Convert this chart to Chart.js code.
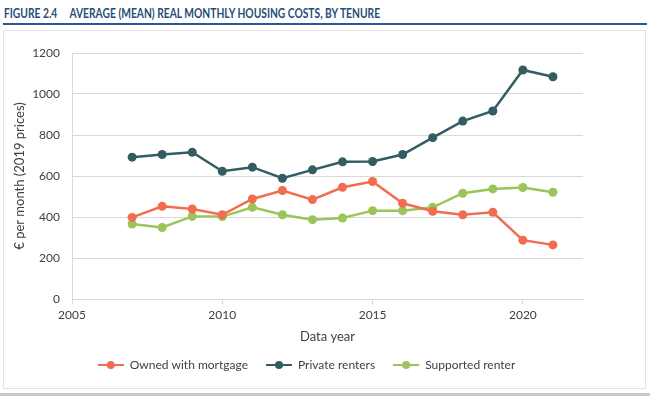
<!DOCTYPE html>
<html>
<head>
<meta charset="utf-8">
<script src="https://cdn.jsdelivr.net/npm/chart.js@4"></script>
<style>
  html, body { margin: 0; padding: 0; background: #fff; }
  body { width: 650px; height: 398px; position: relative; overflow: hidden; font-family: 'Lato', 'Open Sans', sans-serif; }
  .title { position: absolute; left: 4px; top: 5px; font-family: 'Lato', 'Open Sans', sans-serif; font-weight: bold; font-size: 13px; color: #1f4e79; white-space: pre; transform: scaleX(0.79); transform-origin: left top; }
  .rule { position: absolute; left: 3px; right: 3px; top: 23px; height: 2px; background: #2e5597; }
  .box { position: absolute; left: 3px; top: 30px; width: 641px; height: 357px; border: 1px solid #e3e3e3; }
  .bottom { position: absolute; left: 0; right: 0; top: 393px; height: 3px; background: #c8c8c8; }
  #wrap { position: absolute; left: 4px; top: 31px; width: 640px; height: 356px; }
</style>
</head>
<body>
<div class="title">FIGURE 2.4     AVERAGE (MEAN) REAL MONTHLY HOUSING COSTS, BY TENURE</div>
<div class="rule"></div>
<div class="box"></div>
<div id="wrap"><canvas id="c"></canvas></div>
<div class="bottom"></div>
<script>
const YEARS = [2007, 2008, 2009, 2010, 2011, 2012, 2013, 2014, 2015, 2016, 2017, 2018, 2019, 2020, 2021];
const MORTGAGE = [398, 452, 439, 411, 488, 529, 485, 545, 573, 467, 428, 411, 423, 287, 264];
const PRIVATE = [692, 705, 716, 623, 643, 589, 630, 669, 671, 705, 787, 868, 917, 1117, 1084];
const SUPPORTED = [366, 349, 403, 402, 447, 411, 387, 395, 431, 431, 447, 516, 537, 544, 521];
const SERIES_NAMES = ['Owned with mortgage', 'Private renters', 'Supported renter'];
const COLORS = ['#f26c4f', '#325d61', '#9bc45a'];

const FONT = "'Lato', 'Open Sans', sans-serif";
const TEXT = '#404040';
const GRID = '#d9d9d9';

// legend marker: short line with a dot in the middle
function marker(color) {
  const c = document.createElement('canvas');
  c.width = 26; c.height = 10;
  const g = c.getContext('2d');
  g.strokeStyle = color; g.lineWidth = 2;
  g.beginPath(); g.moveTo(0, 5); g.lineTo(26, 5); g.stroke();
  g.fillStyle = color;
  g.beginPath(); g.arc(13, 5, 4, 0, Math.PI * 2); g.fill();
  return c;
}

const pts = arr => arr.map((v, i) => ({ x: YEARS[i], y: v }));

const datasets = [MORTGAGE, PRIVATE, SUPPORTED].map((d, i) => ({
  label: SERIES_NAMES[i],
  data: pts(d),
  borderColor: COLORS[i],
  backgroundColor: COLORS[i],
  borderWidth: 2.5,
  pointRadius: 4.5,
  pointBorderWidth: 0,
  pointStyle: 'circle',
  legendMarker: marker(COLORS[i]),
  tension: 0,
}));

// keep the legend box short even with wide gaps between items,
// then nudge it into place
const legendHeight = {
  id: 'legendHeight',
  beforeInit(chart) {
    const fit = chart.legend.fit;
    chart.legend.fit = function () {
      fit.call(this);
      this.height = 34;
    };
  },
  afterLayout(chart) {
    const lg = chart.legend;
    lg.top -= 8; lg.bottom -= 8;
    lg.left += 13; lg.right += 13;
  },
};

new Chart(document.getElementById('c'), {
  type: 'line',
  data: { datasets },
  plugins: [legendHeight],
  options: {
    responsive: true,
    maintainAspectRatio: false,
    animation: false,
    layout: { padding: { top: 22, right: 61, left: 0, bottom: 4 } },
    plugins: {
      legend: {
        position: 'bottom',
        labels: {
          font: { family: FONT, size: 12 },
          color: TEXT,
          usePointStyle: true,
          pointStyleWidth: 26,
          boxHeight: 10,
          padding: 18,
          generateLabels: chart => chart.data.datasets.map((ds, i) => ({
            text: ds.label,
            fillStyle: ds.borderColor,
            strokeStyle: ds.borderColor,
            fontColor: TEXT,
            pointStyle: ds.legendMarker,
            datasetIndex: i,
            hidden: false,
          })),
        },
      },
      tooltip: { enabled: false },
    },
    scales: {
      x: {
        type: 'linear',
        min: 2005,
        max: 2022,
        ticks: {
          stepSize: 5,
          includeBounds: false,
          font: { family: FONT, size: 12 },
          color: TEXT,
          callback: v => String(v),
          padding: 4,
        },
        grid: { drawOnChartArea: false, drawTicks: true, tickLength: 5, color: GRID },
        border: { color: GRID },
        title: { display: true, text: 'Data year', font: { family: FONT, size: 13 }, color: TEXT, padding: { top: 4, bottom: 4 } },
        afterFit: s => { s.height = 50; },
      },
      y: {
        min: 0,
        max: 1200,
        ticks: {
          stepSize: 200,
          font: { family: FONT, size: 12 },
          color: TEXT,
          padding: 12,
          callback: v => String(v),
        },
        grid: { color: GRID, drawTicks: false },
        border: { color: GRID },
        title: { display: true, text: '€ per month (2019 prices)', font: { family: FONT, size: 13 }, color: TEXT, padding: { top: 8, bottom: 4 } },
        afterFit: s => { s.width = 68; },
      },
    },
  },
});
</script>
</body>
</html>
